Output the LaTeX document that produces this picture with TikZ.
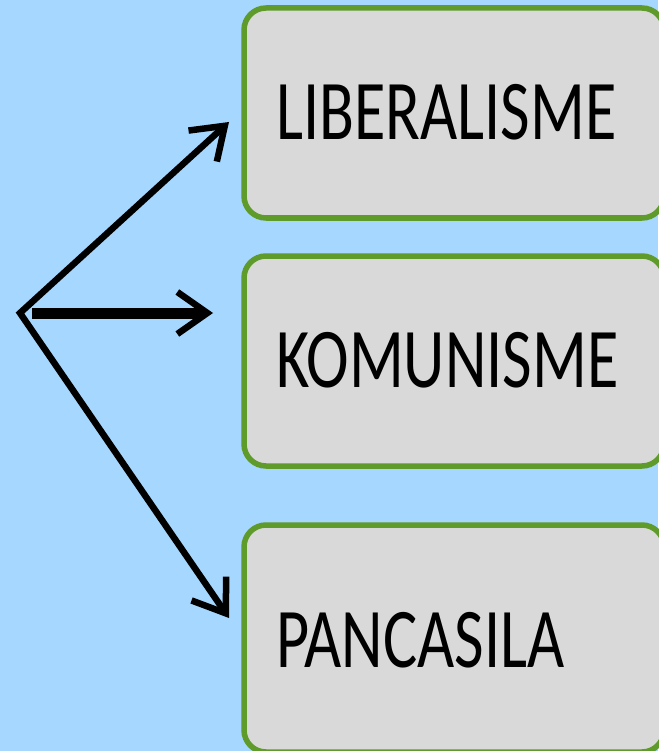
\documentclass[tikz,border=0pt]{standalone}
\usepackage{fontspec}
\setmainfont{Carlito}
\usetikzlibrary{arrows.meta}
\definecolor{skybg}{RGB}{166,215,254}
\definecolor{boxfill}{RGB}{217,217,217}
\definecolor{boxline}{RGB}{95,155,42}
\begin{document}
\begin{tikzpicture}[x=1pt,y=-1pt,
  ideabox/.style={rectangle, draw=boxline, fill=boxfill, line width=5.5pt,
    rounded corners=22pt, minimum width=420pt, inner sep=0pt},
  ideatext/.style={anchor=base west, inner sep=0pt, text=black,
    font=\fontsize{85}{85}\selectfont},
  barb/.tip={Straight Barb[length=30pt,width=42pt,line width=6.5pt]}
]
% canvas
\fill[skybg] (0,0) rectangle (658,751);
\useasboundingbox (0,0) rectangle (658,751);

% the three boxes
\node[ideabox, minimum height=210pt] (b1) at (454,113) {};
\node[ideabox, minimum height=210pt] (b2) at (454,361) {};
\node[ideabox, minimum height=227pt] (b3) at (454,638.5) {};

% their captions
\node[ideatext] (t1) at (276,140) {\scalebox{0.755}[1]{LIBERALISME}};
\node[ideatext] (t2) at (276,387) {\scalebox{0.755}[1]{KOMUNISME}};
\node[ideatext] (t3) at (276,667) {\scalebox{0.755}[1]{PANCASILA}};

% arrow ends
\coordinate (o) at (20,313);
\coordinate (h) at (32,313);
\coordinate (a1) at (229,122);
\coordinate (a2) at (213,313);
\coordinate (a3) at (229,618);

% the forked pair of arrows and the middle one
\draw[line width=6.5pt, line join=miter, {barb}-{barb}] (a1) -- (o) -- (a3);
\draw[line width=11pt, -{barb}] (h) -- (a2);
\end{tikzpicture}
\end{document}
